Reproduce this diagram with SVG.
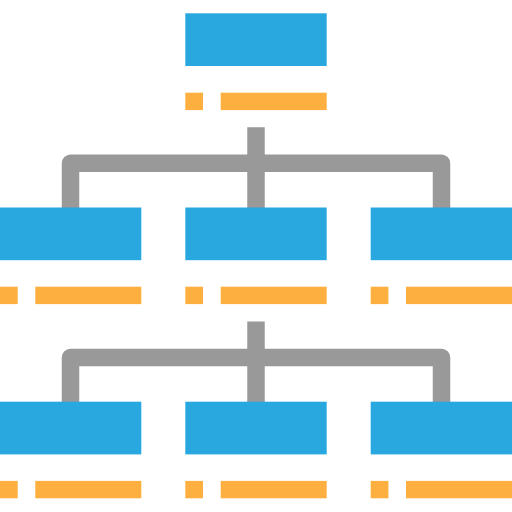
<svg xmlns="http://www.w3.org/2000/svg" width="512" height="512" viewBox="0 0 512 512">
<style>
.box{fill:#29A8E0}
.lbl{fill:#FDB03F}
.con{fill:none;stroke:#999999;stroke-width:17.5;stroke-linejoin:round}
</style>
<rect width="512" height="512" fill="#ffffff"/>
<g id="connectors">
<path class="con" d="M256,127.3V208M70.5,208V163.2H441.5V208"/>
<path class="con" d="M256,321.5V402M70.5,402V357.4H441.5V402"/>
</g>
<g id="node-top">
<rect class="box" x="185.3" y="13.3" width="141.4" height="52.7"/>
<rect class="lbl" x="185.3" y="92.7" width="17.7" height="17.4"/>
<rect class="lbl" x="220.7" y="92.7" width="106" height="17.4"/>
</g>
<g id="node-l1">
<rect class="box" x="0" y="207.5" width="141.3" height="52.7"/>
<rect class="lbl" x="0" y="286.7" width="17.7" height="17.4"/>
<rect class="lbl" x="35.3" y="286.7" width="106" height="17.4"/>
</g>
<g id="node-m1">
<rect class="box" x="185.3" y="207.5" width="141.4" height="52.7"/>
<rect class="lbl" x="185.3" y="286.7" width="17.7" height="17.4"/>
<rect class="lbl" x="220.7" y="286.7" width="106" height="17.4"/>
</g>
<g id="node-r1">
<rect class="box" x="370.7" y="207.5" width="141.3" height="52.7"/>
<rect class="lbl" x="370.7" y="286.7" width="17.7" height="17.4"/>
<rect class="lbl" x="406" y="286.7" width="106" height="17.4"/>
</g>
<g id="node-l2">
<rect class="box" x="0" y="401.7" width="141.3" height="52.7"/>
<rect class="lbl" x="0" y="480.9" width="17.7" height="17.4"/>
<rect class="lbl" x="35.3" y="480.9" width="106" height="17.4"/>
</g>
<g id="node-m2">
<rect class="box" x="185.3" y="401.7" width="141.4" height="52.7"/>
<rect class="lbl" x="185.3" y="480.9" width="17.7" height="17.4"/>
<rect class="lbl" x="220.7" y="480.9" width="106" height="17.4"/>
</g>
<g id="node-r2">
<rect class="box" x="370.7" y="401.7" width="141.3" height="52.7"/>
<rect class="lbl" x="370.7" y="480.9" width="17.7" height="17.4"/>
<rect class="lbl" x="406" y="480.9" width="106" height="17.4"/>
</g>
</svg>
